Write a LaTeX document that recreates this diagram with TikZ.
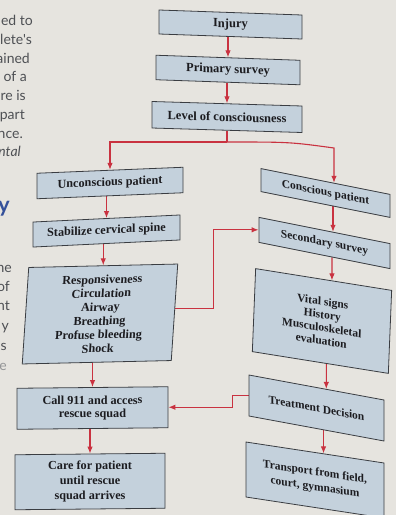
\documentclass[tikz,border=0pt]{standalone}
\usepackage{fontspec}
\setmainfont{Liberation Serif}
\newfontfamily\pagefont{Lato}
\usetikzlibrary{arrows.meta}
\pgfdeclarelayer{paperlayer}
\pgfdeclarelayer{linklayer}
\pgfsetlayers{paperlayer,linklayer,main}
\definecolor{paper}{HTML}{E6E4DF}
\definecolor{boxfill}{HTML}{C4D1DC}
\definecolor{boxline}{HTML}{3A3D42}
\definecolor{flowred}{HTML}{C93240}
\definecolor{inktext}{HTML}{1C1C20}
\definecolor{pagegray}{HTML}{4E5054}
\definecolor{headblue}{HTML}{34509A}
\tikzset{
  flowbox/.style={draw=boxline, fill=boxfill, line width=0.8pt, inner sep=2pt,
    align=center, text=inktext, font=\bfseries\fontsize{12.2}{13.8}\selectfont},
  topbox/.style={font=\bfseries\fontsize{12.5}{14}\selectfont},
  rightbox/.style={font=\bfseries\fontsize{11.5}{13.4}\selectfont},
  link/.style={draw=flowred, line width=1.1pt},
  flowarrow/.style={link, -{Latex[length=7pt,width=5.5pt]}},
  pagetext/.style={text=pagegray, font=\pagefont\fontsize{14}{16}\selectfont,
    inner sep=0pt, anchor=mid east},
}
\newcommand\slantbox[9]{%
  \begin{scope}[shift={(#2,#3)}, cm={1,#6,#7,1,(0,0)}, transform shape]
    \node[flowbox, minimum width=#4pt, minimum height=#5pt, #8] (#1) at (0,0) {#9};
  \end{scope}}
\begin{document}
\begin{tikzpicture}[x=1pt, y=-1pt]
\begin{pgfonlayer}{paperlayer}
  \fill[paper] (0,0) rectangle (396,515);
\end{pgfonlayer}
\useasboundingbox (0,0) rectangle (396,515);

% page text fragments at the left margin
\node[pagetext] (p1) at (33,23) {ed to};
\node[pagetext] (p2) at (32,42) {lete's};
\node[pagetext] (p3) at (30,61) {ained};
\node[pagetext] (p4) at (27,79) {of a};
\node[pagetext] (p5) at (26,98) {re is};
\node[pagetext] (p6) at (25,117) {part};
\node[pagetext] (p7) at (23,136) {nce.};
\node[pagetext, font=\pagefont\itshape\fontsize{14}{16}\selectfont] (p8) at (21,154) {ntal};
\node[pagetext, text=headblue, font=\pagefont\bfseries\fontsize{22}{24}\selectfont] (heady) at (10,210) {y};
\node[pagetext] (q1) at (12,270) {ne};
\node[pagetext] (q2) at (10,289) {of};
\node[pagetext] (q3) at (10,308) {nt};
\node[pagetext] (q4) at (9,328) {y};
\node[pagetext] (q5) at (7,348) {s};
\node[pagetext, text=pagegray!60] (q6) at (7,368) {e};

% boxes
\slantbox{injury}{230.5}{24.5}{143}{24}{-0.035}{0}{topbox}{Injury}
\slantbox{primary}{228}{70}{144}{24.5}{-0.035}{0}{topbox}{Primary survey}
\slantbox{level}{227}{117}{150}{26.5}{-0.03}{0}{topbox}{Level of consciousness}
\slantbox{uncon}{110}{183}{146}{25.5}{0.041}{0}{}{Unconscious patient}
\slantbox{stab}{106.5}{231}{147}{25}{0.048}{0}{}{Stabilize cervical spine}
\slantbox{resp}{100}{314}{149}{96.5}{0.023}{0.067}{}{Responsiveness\\Circulation\\Airway\\Breathing\\Profuse bleeding\\Shock}
\slantbox{call}{92.5}{408}{151}{41}{0.01}{0}{font=\bfseries\fontsize{12.2}{13}\selectfont}{Call 911 and access\\rescue squad}
\slantbox{care}{90}{481.5}{150}{55}{0.01}{0}{font=\bfseries\fontsize{12.2}{15}\selectfont}{Care for patient\\until rescue\\squad arrives}
\slantbox{consc}{325.5}{193}{129}{23}{-0.2}{0}{rightbox}{Conscious patient}
\slantbox{second}{324.5}{243}{131}{25}{-0.2}{0}{rightbox}{Secondary survey}
\slantbox{vital}{322}{321}{136}{83}{-0.16}{0.04}{font=\bfseries\fontsize{11.5}{13}\selectfont}{Vital signs\\History\\Musculoskeletal\\evaluation}
\slantbox{treat}{316.5}{408}{135}{41}{-0.185}{0}{rightbox}{Treatment Decision}
\slantbox{trans}{315}{480}{138}{55}{-0.152}{0}{font=\bfseries\fontsize{11.5}{15}\selectfont}{Transport from field,\\court, gymnasium}

% connectors
\begin{pgfonlayer}{linklayer}
\coordinate (split) at (level.south |- 0,142);
\coordinate (lcorner) at (uncon.north |- 0,142);
\coordinate (rcorner) at (334,148);
\draw[flowarrow] (primary.north |- injury.south) -- (primary.north);
\draw[flowarrow] (level.north |- primary.south) -- (level.north);
\draw[link] (level.south) -- (split);
\draw[flowarrow] (split) -- (lcorner) -- (uncon.north);
\draw[flowarrow] (split) .. controls (290,142) .. (rcorner) -- ([shift={(8.5,1.7)}]consc.north);
\draw[flowarrow] (stab.north |- uncon.south) -- (stab.north);
\draw[flowarrow] (resp.north |- stab.south) -- (resp.north);
\draw[flowarrow] (call.north |- resp.south) -- (call.north);
\draw[flowarrow] (care.north |- call.south) -- (care.north);
\draw[flowarrow] ([shift={(7.5,1.5)}]consc.south) -- ([shift={(8.5,1.7)}]second.north);
\draw[flowarrow] ([shift={(7.5,1.5)}]second.south) -- ([shift={(8.3,1.3)}]vital.north);
\draw[flowarrow] ([shift={(6,1)}]vital.south) -- ([shift={(9.8,1.8)}]treat.north);
\draw[flowarrow] ([shift={(7,1.3)}]treat.south) -- ([shift={(8.5,1.3)}]trans.north);
\draw[flowarrow] ([yshift=4pt]resp.east) -- ++(39,0) |- (second.west);
\draw[flowarrow] (treat.west) -- ++(-16,0) |- (call.east);
\end{pgfonlayer}
\end{tikzpicture}
\end{document}
